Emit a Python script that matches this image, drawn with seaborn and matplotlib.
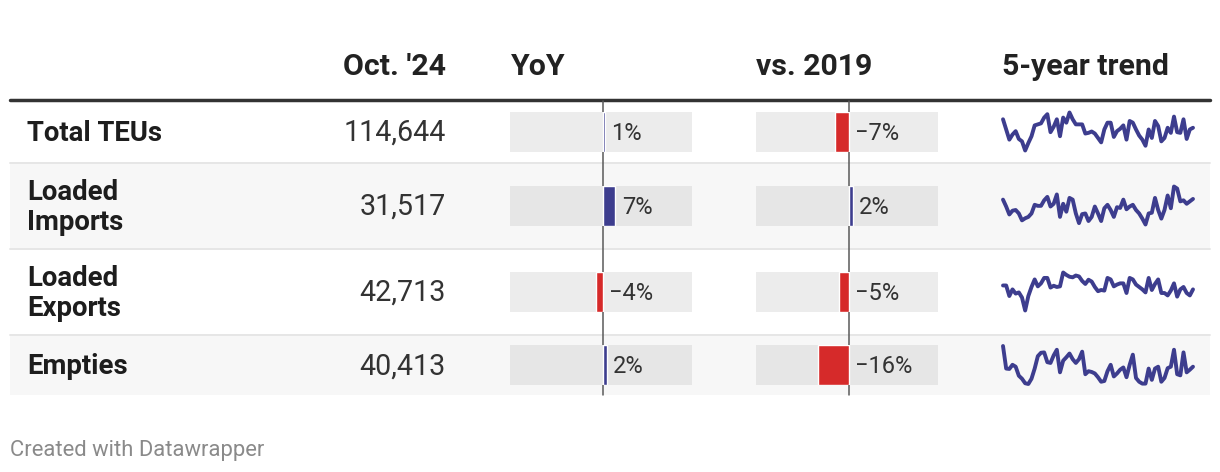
import matplotlib
matplotlib.use("Agg")
import matplotlib.pyplot as plt
import seaborn as sns

# dados da tabela
linhas = ["Total TEUs", "Loaded\nImports", "Loaded\nExports", "Empties"]
out_2024 = [114644, 31517, 42713, 40413]
yoy = [1, 7, -4, 2]
vs_2019 = [-7, 2, -5, -16]

# tendencia 5 anos (escala relativa)
trend_total = [110, 80, 50, 65, 75, 52, 45, 18, 40, 60, 92, 95, 98, 115, 125, 72, 88, 110, 60, 115,
               100, 130, 110, 95, 95, 95, 68, 70, 74, 68, 55, 42, 80, 100, 100, 58, 75, 82, 92, 50,
               105, 100, 80, 62, 50, 32, 80, 55, 105, 90, 45, 55, 85, 70, 118, 72, 70, 110, 52, 80, 85]
trend_imports = [90, 70, 47, 58, 60, 50, 30, 36, 40, 50, 75, 72, 72, 88, 98, 70, 78, 105, 40, 78,
                 55, 95, 90, 50, 22, 48, 50, 28, 40, 70, 50, 28, 65, 75, 60, 40, 68, 66, 90, 62,
                 70, 75, 60, 50, 35, 18, 50, 52, 95, 60, 35, 60, 102, 65, 128, 122, 85, 88, 78, 85, 92]
trend_exports = [85, 85, 50, 72, 58, 62, 45, 2, 50, 80, 105, 82, 92, 110, 110, 78, 84, 80, 82, 128,
                 120, 114, 112, 118, 115, 100, 90, 104, 98, 80, 66, 70, 68, 110, 105, 82, 88, 92, 92, 60,
                 110, 105, 88, 80, 72, 62, 110, 70, 90, 105, 60, 60, 52, 68, 92, 48, 72, 80, 60, 52, 72]
trend_empties = [125, 65, 64, 75, 70, 46, 38, 26, 24, 38, 65, 98, 107, 108, 82, 80, 100, 115, 55, 86,
                 95, 105, 90, 80, 90, 110, 50, 58, 56, 52, 42, 30, 32, 58, 75, 44, 52, 62, 68, 42,
                 75, 102, 40, 30, 25, 25, 65, 35, 65, 70, 30, 40, 66, 70, 115, 50, 47, 108, 55, 62, 70]
tendencias = [trend_total, trend_imports, trend_exports, trend_empties]

sns.set_theme(style="white")
plt.rcParams['font.family'] = ['Roboto', 'DejaVu Sans']

W, H = 1220, 472
azul = '#3d3d8e'
vermelho = '#d62a2a'

fig = plt.figure(figsize=(W / 100, H / 100), dpi=100)
fundo = fig.add_axes([0, 0, 1, 1])
fundo.set_xlim(0, W)
fundo.set_ylim(H, 0)
fundo.axis('off')


def caixa(x0, y0, x1, y1):
    # pixel -> fracao da figura
    return [x0 / W, 1 - y1 / H, (x1 - x0) / W, (y1 - y0) / H]


def limpar(ax):
    # some com eixos mas deixa o fundo
    ax.set_xticks([])
    ax.set_yticks([])
    ax.set_xlabel('')
    ax.set_ylabel('')
    for s in ax.spines.values():
        s.set_visible(False)


# geometria das linhas
topos = [101, 163, 249, 335]
fundos_linha = [162, 248, 334, 395]
centros = [(a + b) / 2 for a, b in zip(topos, fundos_linha)]

# fundo cinza nas linhas pares
for i in range(4):
    if i % 2 == 1:
        fundo.fill_between([10, 1210], topos[i], fundos_linha[i], color='#f7f7f7', lw=0, zorder=0)
for y in [162.5, 248.5, 334.5]:
    fundo.plot([10, 1210], [y, y], color='#e6e6e6', lw=1.4, zorder=1)

# cabecalho
cab = dict(fontsize=21.8, fontweight='bold', color='#222222', va='baseline')
fundo.text(446, 75, "Oct. '24", ha='right', **cab)
fundo.text(511, 75, "YoY", ha='left', **cab)
fundo.text(756, 75, "vs. 2019", ha='left', **cab)
fundo.text(1002, 75, "5-year trend", ha='left', **cab)
fundo.plot([10, 1210], [99.8, 99.8], color='#333333', lw=2.5, zorder=3)

# colunas de texto
for i in range(4):
    partes = linhas[i].split("\n")
    c = centros[i]
    estilo = dict(fontsize=19.8, fontweight='bold', color='#1d1d1d', va='baseline')
    if len(partes) == 1:
        fundo.text(27, c + 9.5, partes[0], **estilo)
    else:
        fundo.text(27, c - 6, partes[0], **estilo)
        fundo.text(27, c + 25, partes[1], **estilo)
    fundo.text(446, c + 9.5, f"{out_2024[i]:,}", fontsize=20.6, color='#333333', ha='right', va='baseline')

# barras (YoY e vs. 2019)
colunas = [(yoy, 510, 692, 603, 1.75), (vs_2019, 756, 938, 849, 1.95)]
for valores, x0, x1, zero, escala in colunas:
    for i in range(4):
        c = centros[i]
        ax = fig.add_axes(caixa(x0, c - 20, x1, c + 20))
        ax.set_facecolor('#ececec' if i % 2 == 0 else '#e6e6e6')
        v = valores[i]
        cor = azul if v >= 0 else vermelho
        sns.barplot(x=[v], y=[linhas[i]], orient='h', color=cor, width=1,
                    saturation=1, ax=ax, zorder=2)
        ax.set_xlim(-(zero - x0) / escala, (x1 - zero) / escala)
        ax.set_ylim(0.5, -0.5)
        limpar(ax)
        rotulo = f"{v}%".replace("-", "\u2212")
        ax.annotate(rotulo, (max(v, 0), 0), xytext=(4.6, -6), textcoords='offset points',
                    fontsize=17, color='#333333', va='baseline', ha='left', annotation_clip=False)
    # linha do zero
    fundo.plot([zero, zero], [101, 395], color='#5a5a5a', lw=1.1, zorder=10)

# sparklines
for i in range(4):
    c = centros[i]
    ax = fig.add_axes(caixa(1003, c - 19, 1193, c + 19))
    serie = tendencias[i]
    sns.lineplot(x=list(range(len(serie))), y=serie, ax=ax, color=azul, linewidth=2.8)
    ax.set_xlim(0, len(serie) - 1)
    ax.set_ylim(min(serie), max(serie))
    for linha in ax.lines:
        linha.set_clip_on(False)
    ax.axis('off')

fundo.text(10, 456, "Created with Datawrapper", fontsize=15.8, color='#8a8a8a', va='baseline')

fig.savefig("out.png", dpi=100)
